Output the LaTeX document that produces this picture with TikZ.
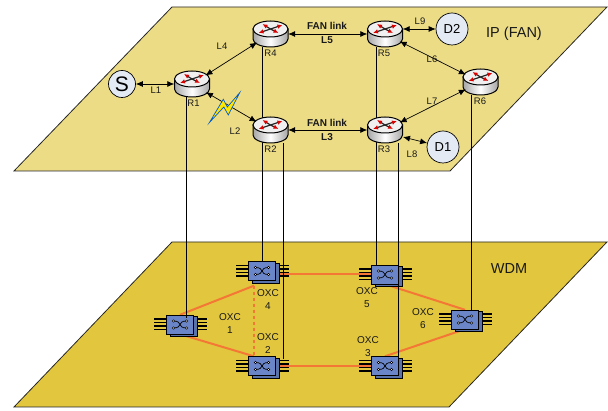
\documentclass[tikz,border=0pt]{standalone}
\usepackage{fontspec}
\setmainfont{Liberation Sans}
\usepackage{xcolor}
\usetikzlibrary{arrows.meta,calc,shapes.geometric}
\definecolor{ipplane}{HTML}{ECDC86}
\definecolor{wdmplane}{HTML}{E1C63E}
\definecolor{oxcblue}{HTML}{6A86C8}
\definecolor{hostblue}{HTML}{E4EAF4}
\definecolor{linkorange}{HTML}{F47735}

\begin{document}
\begin{tikzpicture}[x=1pt, y=-1pt, >={Latex[length=7pt,width=6pt]}, font=\fontsize{9.5}{11}\selectfont,
  plane/.style={draw=black!85, line width=0.8pt},
  rt/.style={ellipse, minimum width=35pt, minimum height=26pt, inner sep=0pt},
  oxc/.style={rectangle, minimum width=26.5pt, minimum height=19pt, inner sep=0pt},
  host/.style={circle, draw=black, fill=hostblue, line width=0.7pt, inner sep=0pt},
  lnk/.style={<->, line width=0.7pt},
  wire/.style={black, line width=0.9pt},
  fiber/.style={linkorange, line width=2pt},
  lbl/.style={inner sep=0pt, align=center, text=black!90},
  oxclbl/.style={lbl, font=\fontsize{10}{13}\selectfont},
  fanlbl/.style={lbl, font=\fontsize{10}{11}\selectfont\bfseries},
  router/.pic={
    \path[draw=black, line width=1pt, left color=gray!70, right color=gray!70, middle color=white]
      (-17.5,-5) -- (-17.5,5) arc (180:0:17.5 and 8) -- (17.5,-5) -- cycle;
    \draw[line width=1pt, fill=gray!12] (0,-5) ellipse (17.5 and 8);
    \foreach \tx/\ty in {-12/-1, 12/-9, -8/-10, 8/-1}
      \draw[black!85, line width=1.2pt, -{Latex[color=red!85!black, length=5pt, width=4.5pt]}] (0,-5) -- (\tx,\ty);
  },
  crossconnect/.pic={
    \foreach \py in {-5.25,-1.75,1.75,5.25} {
      \draw[line width=1.5pt] (-26,\py) -- (27,\py);
    }
    \draw[line width=0.6pt, fill=oxcblue!85!black] (-9.5,-8) -- (17,-8) -- (17,12) -- (-9.5,12) -- cycle;
    \draw[line width=0.8pt, fill=oxcblue] (-13.25,-9.5) rectangle (13.25,9.5);
    \draw[line width=0.7pt] (-6.5,-3.5) .. controls (3,-3.5) and (-3,3.5) .. (6.5,3.5);
    \draw[line width=0.7pt] (-6.5,3.5) .. controls (3,3.5) and (-3,-3.5) .. (6.5,-3.5);
    \foreach \cx/\cy in {-6.5/-3.5, 6.5/-3.5, -6.5/3.5, 6.5/3.5}
      \draw[line width=0.5pt, fill=white] (\cx,\cy) circle (1.3);
  }]
  \useasboundingbox (0,0) rectangle (608,411);

  % planes
  \draw[plane, fill=ipplane] (172,7) -- (607,7) -- (450,171) -- (14,171) -- cycle;
  \draw[plane, fill=wdmplane] (172,242) -- (607,242) -- (449,407) -- (14,407) -- cycle;

  % routers
  \node[rt] (r1) at (192,84) {};
  \node[rt] (r2) at (270.5,130) {};
  \node[rt] (r3) at (385,130) {};
  \node[rt] (r4) at (270.5,34) {};
  \node[rt] (r5) at (385,34) {};
  \node[rt] (r6) at (480.5,82) {};
  \node[host, minimum size=27pt, font=\fontsize{21}{21}\selectfont] (s) at (122,84) {S};
  \node[host, minimum size=32pt, font=\fontsize{13}{13}\selectfont] (d2) at (452,29) {D2};
  \node[host, minimum size=32pt, font=\fontsize{13}{13}\selectfont] (d1) at (443,147) {D1};

  % oxc
  \node[oxc] (o1) at (180,324.5) {};
  \node[oxc] (o2) at (262,366) {};
  \node[oxc] (o3) at (385,366) {};
  \node[oxc] (o4) at (262,271) {};
  \node[oxc] (o5) at (385,274.5) {};
  \node[oxc] (o6) at (465,319.5) {};
  \coordinate (j4) at ($(o4.south)+(-8,5)$);
  \coordinate (j2) at ($(o2.north)+(-8,0)$);

  % fibers
  \draw[fiber] (o1.north) -- (j4);
  \draw[fiber] (o1.south) -- (j2);
  \draw[fiber, dash pattern=on 3.5pt off 2.5pt] (j4) -- (j2);
  \draw[fiber] (o4.east |- o5.west) -- (o5.west);
  \draw[fiber] (o2.east) -- (o3.west);
  \draw[fiber] (o5.south) -- (o6.north);
  \draw[fiber] (o3.north) -- (o6.south);
  \foreach \i in {1,...,6}
    \pic at (o\i) {crossconnect};

  % between the layers
  \coordinate (t1) at ($(o1.north)+(6,3)$);
  \coordinate (t2) at ($(o2.north)+(21,3)$);
  \coordinate (t3) at ($(o3.north)+(13,0)$);
  \coordinate (t5) at ($(o5.north)+(-9,0)$);
  \coordinate (t6) at ($(o6.north)+(6,0)$);
  \draw[wire] (r1.south -| t1) -- (t1);
  \draw[wire] (r2.south -| t2) -- (t2);
  \draw[wire] (r3.south -| t3) -- (t3);
  \draw[wire] (r4.south -| o4.north) -- (o4.north);
  \draw[wire] (r5.south -| t5) -- (t5);
  \draw[wire] (r6.south -| t6) -- (t6);
  \foreach \i in {1,...,6}
    \pic at (r\i) {router};

  % links
  \draw[lnk] (s) -- (r1);
  \draw[lnk] (r1) -- (r4);
  \draw[lnk] (r1) -- (r2);
  \draw[lnk] (r4) -- (r5);
  \draw[lnk] (r2) -- (r3);
  \draw[lnk] (r5) -- (r6);
  \draw[lnk] (r3) -- (r6);
  \draw[lnk] (r5.east |- d2) -- (d2);
  \draw[lnk] (r3) ++(18,7) -- (d1);

  % failure mark
  \draw[fill=yellow!90!orange, draw=blue!55!cyan!80!black, line width=0.7pt]
    (209.3,122.7) -- (223.3,99.3) -- (227.3,107) -- (239.7,92.7) -- (228.3,115) -- (223.8,107) -- cycle;

  % texts
  \node[lbl] (lr1) at (193.5,103) {R1};
  \node[lbl] (lr2) at (270.5,149.5) {R2};
  \node[lbl] (lr3) at (384,149.5) {R3};
  \node[lbl] (lr4) at (270.5,53.5) {R4};
  \node[lbl] (lr5) at (384,53.5) {R5};
  \node[lbl] (lr6) at (480,101) {R6};
  \node[lbl] (l1) at (156,90.5) {L1};
  \node[lbl] (l2) at (235,131) {L2};
  \node[lbl] (l4) at (222,46.5) {L4};
  \node[lbl] (l6) at (432,59) {L6};
  \node[lbl] (l7) at (432,101) {L7};
  \node[lbl] (l8) at (412,154) {L8};
  \node[lbl] (l9) at (420,21) {L9};
  \node[fanlbl] (fan5) at (327,26) {FAN link};
  \node[fanlbl] (l5) at (327,40) {L5};
  \node[fanlbl] (fan3) at (327,123) {FAN link};
  \node[fanlbl] (l3) at (327,137) {L3};
  \node[lbl, font=\fontsize{14.5}{16}\selectfont] (ip) at (514,34) {IP (FAN)};
  \node[lbl, font=\fontsize{14.5}{16}\selectfont] (wdm) at (509,269) {WDM};
  \node[oxclbl] (x1) at (230,323.5) {OXC\\1};
  \node[oxclbl] (x2) at (268,344) {OXC\\2};
  \node[oxclbl] (x3) at (368,346.5) {OXC\\3};
  \node[oxclbl] (x4) at (268,300) {OXC\\4};
  \node[oxclbl] (x5) at (367,297.5) {OXC\\5};
  \node[oxclbl] (x6) at (423,318.5) {OXC\\6};
\end{tikzpicture}
\end{document}
